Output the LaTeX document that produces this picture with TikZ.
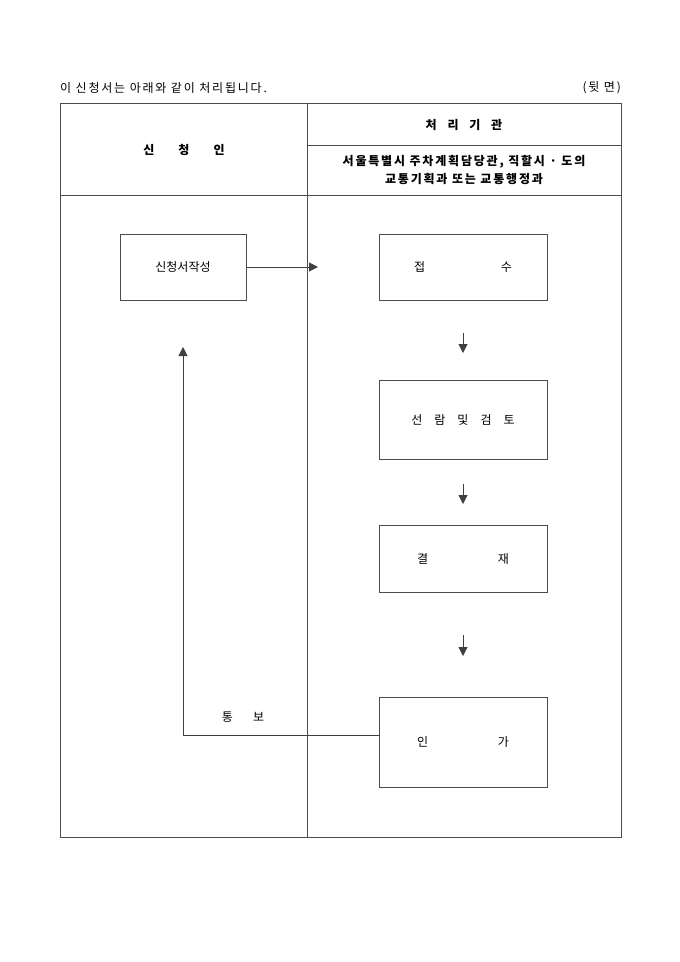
\documentclass[tikz,border=0pt]{standalone}
\usepackage{fontspec}
\setmainfont{Noto Sans CJK KR}
\newfontfamily\krsp[LetterSpace=15]{Noto Sans CJK KR}
\usetikzlibrary{arrows.meta,calc}
\begin{document}
\begin{tikzpicture}[x=1bp,y=-1bp,
  frame/.style={draw=black!70,line width=1bp},
  box/.style={draw=black!70,line width=1bp,rectangle},
  conn/.style={draw=black!75,line width=1bp},
  tip/.style={-{Triangle[length=9bp,width=9bp]}},
  txt/.style={font=\fontsize{12bp}{14bp}\selectfont,inner sep=0pt},
  stxt/.style={font=\krsp\fontsize{12bp}{14bp}\selectfont,inner sep=0pt},
  btxt/.style={font=\krsp\fontsize{12bp}{18bp}\selectfont\bfseries,inner sep=0pt,align=center}]
\useasboundingbox (0,0) rectangle (680,962);
% header
\node[stxt,anchor=west] (hdr) at (60,88) {이 신청서는 아래와 같이 처리됩니다.};
\node[stxt,anchor=east] (side) at (621,88) {(뒷 면)};
% table
\draw[frame] (60,103) rectangle (621,837);
\draw[frame] (307,103) -- (307,837);
\draw[frame] (307,145) -- (621,145);
\draw[frame] (60,195) -- (621,195);
\node[btxt] (t1) at (464,125) {처\hspace{0.9em}리\hspace{0.9em}기\hspace{0.9em}관};
\node[btxt] (t2) at (184,150) {신\hspace{2em}청\hspace{2em}인};
\node[btxt] (t3) at (464,170) {서울특별시 주차계획담당관, 직할시 · 도의\\교통기획과 또는 교통행정과};
% boxes
\node[box,minimum width=126bp,minimum height=66bp,txt] (a) at (183,267) {신청서작성};
\node[box,minimum width=168bp,minimum height=66bp,txt] (b) at (463,267) {접\hspace{6.3em}수};
\node[box,minimum width=168bp,minimum height=79bp,txt] (c) at (463,419.5) {선\hspace{1em}람\hspace{1em}및\hspace{1em}검\hspace{1em}토};
\node[box,minimum width=168bp,minimum height=67bp,txt] (d) at (463,558.5) {결\hspace{5.8em}재};
\node[box,minimum width=168bp,minimum height=90bp,txt] (e) at (463,742) {인\hspace{5.8em}가};
\node[txt] (n) at (243,717) {통\hspace{1.7em}보};
% connectors
\coordinate (a1) at (318,267);
\draw[conn,tip] (a.east) -- (a1);
\coordinate (s1) at (463,333); \coordinate (e1) at (463,353);
\draw[conn,tip] (s1) -- (e1);
\coordinate (s2) at (463,484); \coordinate (e2) at (463,504);
\draw[conn,tip] (s2) -- (e2);
\coordinate (s3) at (463,635); \coordinate (e3) at (463,656);
\draw[conn,tip] (s3) -- (e3);
\coordinate (r1) at (183,735); \coordinate (r2) at (183,347);
\draw[conn,tip] (e.west |- r1) -- (r1) -- (r2);
\end{tikzpicture}
\end{document}
